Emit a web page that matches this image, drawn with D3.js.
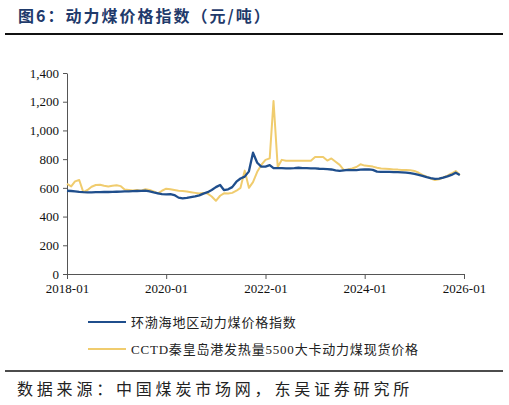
<!DOCTYPE html>
<html><head><meta charset="utf-8">
<script src="https://cdn.jsdelivr.net/npm/d3@7"></script>
<style>body{margin:0;background:#fff}svg{display:block}</style>
</head><body><svg id="c" width="509" height="405"></svg>
<script>
const startMonth = "2018-01";
const yTicks = [0,200,400,600,800,1000,1200,1400];
const xTickLabels = ["2018-01","2020-01","2022-01","2024-01","2026-01"];
const seriesNames = ["环渤海地区动力煤价格指数","CCTD秦皇岛港发热量5500大卡动力煤现货价格"];
// monthly values 2018-01 .. 2025-12
const bspi = [580,578,575,572,570,569,569,570,570,571,571,572,
  573,574,575,576,577,578,579,580,575,568,562,556,
  555,557,550,532,527,530,535,540,548,560,570,585,
  605,620,585,590,605,643,665,678,715,845,775,748,
  748,758,737,738,737,736,735,737,740,738,737,736,
  735,733,732,730,728,722,718,722,725,724,724,727,
  729,728,725,713,712,712,711,710,709,708,706,702,
  697,690,683,675,668,663,665,672,680,690,705,690];
const cctd = [627,610,645,655,570,585,608,620,622,615,610,615,
  618,612,588,585,582,585,580,590,585,575,562,580,
  594,590,585,580,578,575,570,565,560,565,560,540,
  510,545,562,560,565,580,600,720,600,640,712,760,
  795,805,1205,745,795,789,789,789,789,789,789,789,
  815,815,815,790,805,782,760,724,728,735,745,764,
  755,752,748,740,735,733,731,728,727,725,724,723,
  718,705,690,678,665,655,660,672,685,700,717,690];
const colors = ["#1F4E8C","#F0CC6E"];

const svg = d3.select("#c");
const m0 = d3.timeParse("%Y-%m")(startMonth);
const dates = bspi.map((_,i)=>d3.timeMonth.offset(m0,i));
const x = d3.scaleTime().domain([d3.timeParse("%Y-%m")("2018-01"), d3.timeParse("%Y-%m")("2026-01")]).range([67,464]);
const y = d3.scaleLinear().domain([0,1400]).range([274,73]);

// title
svg.append("text").attr("x",18).attr("y",22).attr("font-family","'Noto Sans CJK SC'").attr("font-weight","bold")
  .attr("font-size",16).attr("letter-spacing",2).attr("fill","#1F3A6B").text("图6：动力煤价格指数（元/吨）");
svg.append("line").attr("x1",5).attr("x2",503).attr("y1",34).attr("y2",34).attr("stroke","#111").attr("stroke-width",2);

const serif = "'Liberation Serif','Times New Roman',serif";
const yAxis = svg.append("g").attr("transform","translate(67,0)")
  .call(d3.axisLeft(y).tickValues(yTicks).tickFormat(d3.format(",")).tickSize(4).tickSizeOuter(0));
const xAxis = svg.append("g").attr("transform","translate(0,274)")
  .call(d3.axisBottom(x).tickValues(xTickLabels.map(d3.timeParse("%Y-%m"))).tickFormat(d3.timeFormat("%Y-%m")).tickSize(5).tickSizeOuter(0));
[yAxis,xAxis].forEach(a=>{
  a.selectAll("path,line").attr("stroke","#555");
  a.selectAll("text").attr("font-family",serif).attr("font-size",13).attr("fill","#111");
});
yAxis.selectAll("text").attr("x",-8);
xAxis.selectAll("text").attr("y",10);

const line = d3.line().x((d,i)=>x(dates[i])).y(d=>y(d));
svg.append("path").datum(cctd).attr("d",line).attr("fill","none")
  .attr("stroke",colors[1]).attr("stroke-width",2).attr("stroke-linejoin","round");
svg.append("path").datum(bspi).attr("d",line).attr("fill","none")
  .attr("stroke",colors[0]).attr("stroke-width",2.3).attr("stroke-linejoin","round");

// legend
seriesNames.forEach((n,i)=>{
  const ly = 322 + i*27;
  svg.append("line").attr("x1",88).attr("x2",126).attr("y1",ly).attr("y2",ly).attr("stroke",colors[i]).attr("stroke-width",2);
  svg.append("text").attr("x",131).attr("y",ly+4.5).attr("font-family","'Liberation Serif','Noto Sans CJK SC',serif")
    .attr("font-size",13).attr("letter-spacing",0.8).attr("fill","#222").text(n);
});
svg.append("line").attr("x1",5).attr("x2",503).attr("y1",371).attr("y2",371).attr("stroke","#111").attr("stroke-width",1.5);
svg.append("text").attr("x",17).attr("y",395).attr("font-family","'Noto Sans CJK SC'").attr("font-size",16)
  .attr("fill","#222").attr("letter-spacing",3.8).text("数据来源：中国煤炭市场网，东吴证券研究所");
</script></body></html>
